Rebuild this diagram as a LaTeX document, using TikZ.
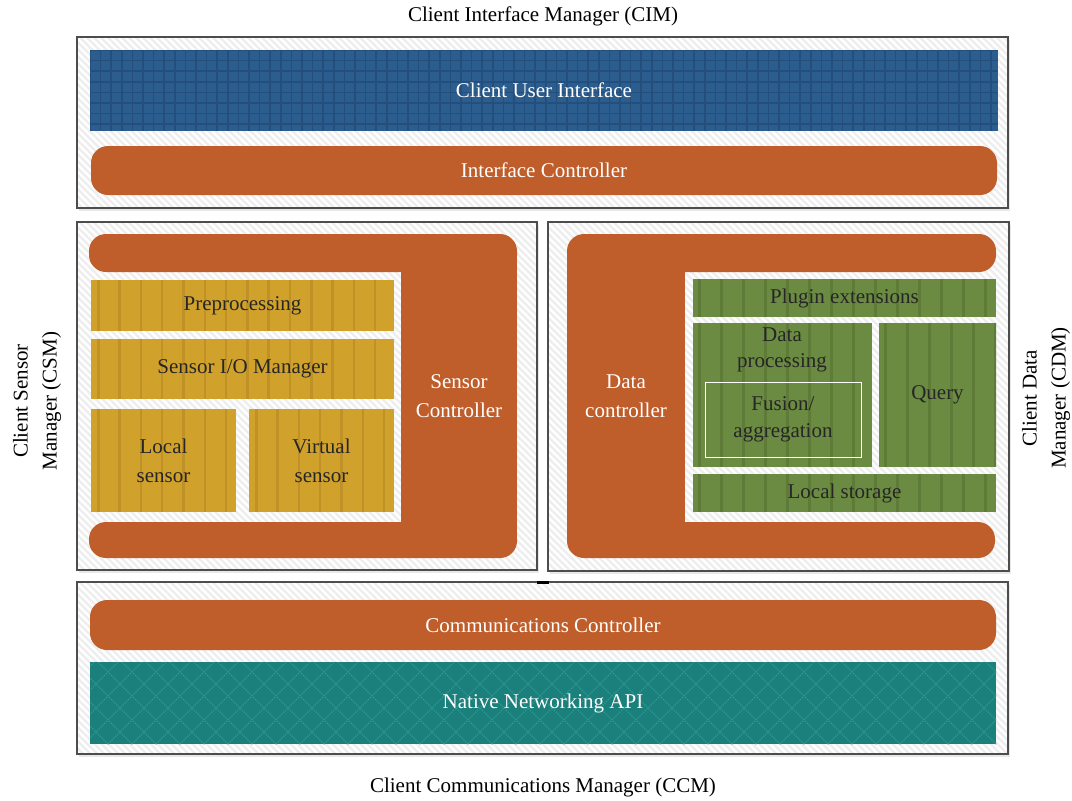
\documentclass[tikz,border=0pt]{standalone}
\usepackage{fontspec}
\setmainfont{Liberation Serif}
\usetikzlibrary{shadows}
\definecolor{ctrlorange}{HTML}{BF5E2B}
\definecolor{uiblue}{HTML}{2B5D8E}
\definecolor{uigrid}{HTML}{244E7B}
\definecolor{sensyellow}{HTML}{D0A22C}
\definecolor{sensstripe}{HTML}{BF9126}
\definecolor{datagreen}{HTML}{6B8A42}
\definecolor{datastripe}{HTML}{5E7C38}
\definecolor{netteal}{HTML}{1B7F7B}
\definecolor{netlattice}{HTML}{2E9A94}
\definecolor{panelgray}{HTML}{EEEEEE}
\definecolor{framegray}{HTML}{4D4D4D}
\definecolor{ink}{HTML}{262626}

\begin{document}
\begin{tikzpicture}[x=1pt,y=-1pt,font=\fontsize{21}{29}\selectfont,
every node/.style={inner sep=0pt,align=center},
panel/.style={draw=framegray,line width=1.3pt,fill=panelgray,
  drop shadow={opacity=0.18,shadow xshift=2pt,shadow yshift=-3pt},
  path picture={\foreach \k in {-400,-393,...,1000}
    \draw[white,line width=2.3pt] ([xshift=\k*1pt]path picture bounding box.north west) -- ++(-45:700pt);}},
ctrlbar/.style={fill=ctrlorange,text=white,rounded corners=17pt},
ctrlpart/.style={fill=ctrlorange,text=white},
gridbox/.style={fill=uiblue,text=white,
  path picture={\foreach \k in {0,10.6,...,920}
    \draw[uigrid,line width=1.6pt] ([xshift=\k*1pt]path picture bounding box.north west) -- ([xshift=\k*1pt]path picture bounding box.south west);
    \foreach \k in {0,10.6,...,90}
    \draw[uigrid,line width=1.6pt] ([yshift=-\k*1pt]path picture bounding box.north west) -- ([yshift=-\k*1pt]path picture bounding box.north east);}},
latticebox/.style={fill=netteal,text=white,
  path picture={\foreach \k in {-150,-126,...,1050}{
    \draw[netlattice,line width=1.3pt,dash pattern=on 1.3pt off 1.3pt] ([xshift=\k*1pt]path picture bounding box.south west) -- ++(45:160pt);
    \draw[netlattice,line width=1.3pt,dash pattern=on 1.3pt off 1.3pt] ([xshift=\k*1pt]path picture bounding box.south west) -- ++(135:160pt);}}},
sensbox/.style={fill=sensyellow,text=ink,
  path picture={\foreach \k in {0,21.3,...,320}
    \fill[sensstripe] ([xshift=\k*1pt+6pt]path picture bounding box.north west) rectangle ([xshift=\k*1pt+8.5pt]path picture bounding box.south west);}},
databox/.style={fill=datagreen,text=ink,
  path picture={\foreach \k in {0,22,...,320}
    \fill[datastripe] ([xshift=\k*1pt+5pt]path picture bounding box.north west) rectangle ([xshift=\k*1pt+7.5pt]path picture bounding box.south west);}}]
\useasboundingbox (0,0) rectangle (1072,801);

% manager panels
\node[panel,minimum width=931pt,minimum height=171pt] (cim) at (542.5,122.5) {};
\node[panel,minimum width=460pt,minimum height=348pt] (csm) at (307,396) {};
\node[panel,minimum width=461pt,minimum height=349pt] (cdm) at (778.5,396.5) {};
\node[panel,minimum width=931pt,minimum height=172pt] (ccm) at (542.5,668) {};
\fill[black] (537,580.5) rectangle (549,583.5);

\node (cimlabel) at (543,16) {Client Interface Manager (CIM)};
\node (ccmlabel) at (543,787) {Client Communications Manager (CCM)};
\node[rotate=90] (csmlabel) at (37,401) {Client Sensor\\Manager (CSM)};
\node[rotate=90] (cdmlabel) at (1046,398) {Client Data\\Manager (CDM)};

% interface manager
\node[gridbox,minimum width=908pt,minimum height=81pt] (cui) at (544,90.5) {Client User Interface};
\node[ctrlbar,minimum width=906pt,minimum height=49pt] (ictrl) at (544,170.5) {Interface Controller};

% sensor manager
\node[ctrlbar,minimum width=428pt,minimum height=38pt] (scttop) at (303,253) {};
\node[ctrlbar,minimum width=428pt,minimum height=36pt] (sctbot) at (303,540) {};
\node[ctrlpart,minimum width=116pt,minimum height=288pt] (sctrl) at (459,396) {Sensor\\Controller};
\node[sensbox,minimum width=303pt,minimum height=51pt] (prep) at (242.5,305.5) {Preprocessing};
\node[sensbox,minimum width=303pt,minimum height=60pt] (sio) at (242.5,369) {Sensor I/O Manager};
\node[sensbox,minimum width=145pt,minimum height=103pt] (lsens) at (163.5,460.5) {Local\\sensor};
\node[sensbox,minimum width=145pt,minimum height=103pt] (vsens) at (321.5,460.5) {Virtual\\sensor};

% data manager
\node[ctrlbar,minimum width=429pt,minimum height=38pt] (dcttop) at (781.5,253) {};
\node[ctrlbar,minimum width=428pt,minimum height=36pt] (dctbot) at (781,540) {};
\node[ctrlpart,minimum width=118pt,minimum height=288pt] (dctrl) at (626,396) {Data\\controller};
\node[databox,minimum width=303pt,minimum height=38pt] (plug) at (844.5,298) {Plugin extensions};
\node[databox,minimum width=179pt,minimum height=144pt] (dproc) at (782.5,395) {};
\node[text=ink,font=\fontsize{21}{26}\selectfont] (dproctxt) at (782,350) {Data\\processing};
\node[draw=white,line width=1pt,minimum width=156pt,minimum height=75pt,text=ink,font=\fontsize{21}{27}\selectfont] (fusion) at (783,419.5) {Fusion/\\aggregation};
\node[databox,minimum width=117pt,minimum height=144pt] (query) at (937.5,395) {Query};
\node[databox,minimum width=303pt,minimum height=38pt] (lstore) at (844.5,493) {Local storage};

% communications manager
\node[ctrlbar,minimum width=906pt,minimum height=50pt] (cctrl) at (543,625) {Communications Controller};
\node[latticebox,minimum width=906pt,minimum height=82pt] (napi) at (543,703) {Native Networking API};
\end{tikzpicture}
\end{document}
